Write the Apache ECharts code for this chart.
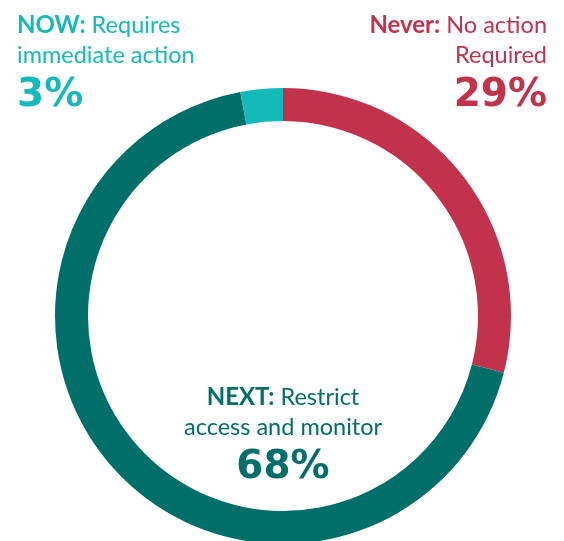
<!DOCTYPE html>
<html>
<head>
<meta charset="utf-8">
<script src="https://cdn.jsdelivr.net/npm/echarts@6/dist/echarts.min.js"></script>
<style>
html,body{margin:0;padding:0;background:#fff;}
#chart{width:564px;height:541px;}
</style>
</head>
<body>
<div id="chart"></div>
<script>
const categories = ['Never', 'NEXT', 'NOW'];
const values = [29, 68, 3];
const descLine1 = ['No action', 'Restrict', 'Requires'];
const descLine2 = ['Required', 'access and monitor', 'immediate action'];
const colors = ['#C2324C', '#006E69', '#14B9B9'];

const chart = echarts.init(document.getElementById('chart'));

const textFont = 'Lato';
const numFont = 'DejaVu Sans';

function labelBlock(i, x, yTop, align) {
  const c = colors[i];
  return [
    {
      type: 'text', x: x, y: yTop, silent: true,
      style: {
        text: '{b|' + categories[i] + ':} ' + descLine1[i],
        fill: c, fontFamily: textFont, fontSize: 23.5,
        align: align, verticalAlign: 'middle',
        rich: { b: { fontWeight: 'bold', fontFamily: textFont, fontSize: 24, fill: c } }
      }
    },
    {
      type: 'text', x: x, y: yTop + 30, silent: true,
      style: {
        text: descLine2[i], fill: c, fontFamily: textFont, fontSize: 23.5,
        align: align, verticalAlign: 'middle'
      }
    },
    {
      type: 'text', x: x, y: yTop + 71, silent: true,
      style: {
        text: values[i] + '%', fill: c, fontFamily: numFont, fontWeight: 'bold', fontSize: 39,
        align: align, verticalAlign: 'middle'
      }
    }
  ];
}

const graphics = []
  .concat(labelBlock(2, 17, 25, 'left'))
  .concat(labelBlock(0, 547, 25, 'right'))
  .concat(labelBlock(1, 283, 397, 'center'));

chart.setOption({
  animation: false,
  series: [{
    type: 'pie',
    silent: true,
    center: [283, 316],
    radius: [195, 228],
    startAngle: 90,
    clockwise: true,
    label: { show: false },
    labelLine: { show: false },
    itemStyle: { borderWidth: 0 },
    data: categories.map((c, i) => ({ name: c, value: values[i], itemStyle: { color: colors[i] } }))
  }],
  graphic: graphics
});
</script>
</body>
</html>
